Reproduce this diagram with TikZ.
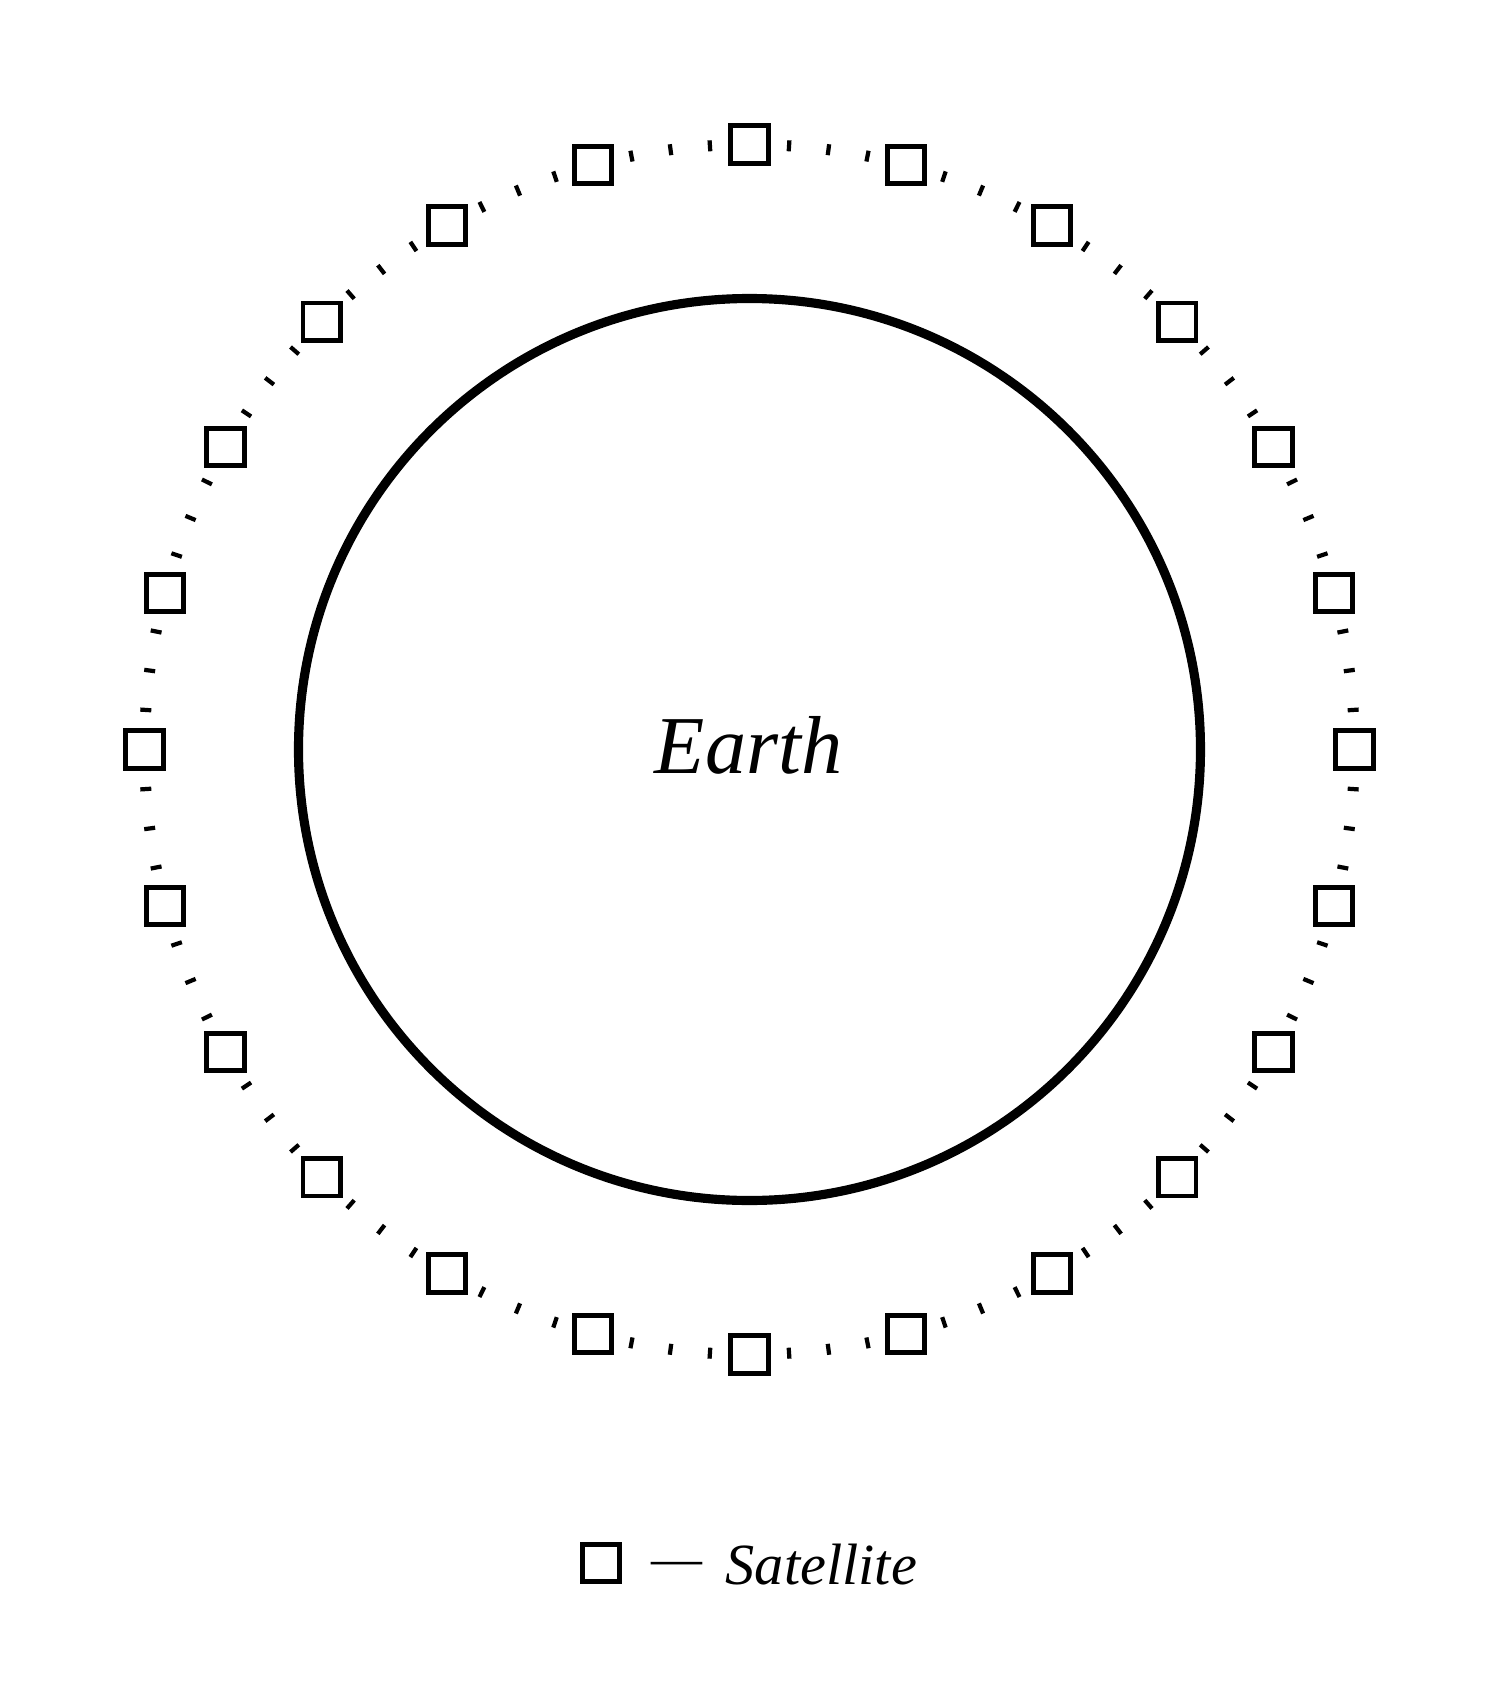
\documentclass[tikz,border=0pt]{standalone}
\usepackage{fontspec}
\setmainfont{Liberation Serif}

\begin{document}
\begin{tikzpicture}[sat/.style={draw,line width=1.35pt,minimum size=3.75mm,inner sep=0pt}]
  \useasboundingbox (-7.495,-9.585) rectangle (7.505,7.495);
  \coordinate (O) at (0,0);
  \draw[line width=2.6pt] (O) circle (4.51);
  \node[anchor=base,inner sep=0pt,font=\fontsize{23.4}{28}\selectfont\itshape] (earth) at (-0.01,-0.235) {Earth};
  \foreach \i in {1,...,24} {
    \node[sat] (sat\i) at ({15*\i}:6.05) {};
    \foreach \k in {1,2,3}
      \draw[line width=1.2pt] ({15*\i+3.75*\k}:5.995) -- ({15*\i+3.75*\k}:6.105);
  }
  \node[sat] (key) at (-1.485,-8.135) {};
  \node[anchor=base west,inner sep=0pt,font=\fontsize{16.6}{20}\selectfont] (keytext) at (-0.985,-8.345) {\raisebox{0.09cm}{\fontsize{14.5}{17}\selectfont ---}\hspace{0.23cm}\textit{Satellite}};
\end{tikzpicture}
\end{document}
